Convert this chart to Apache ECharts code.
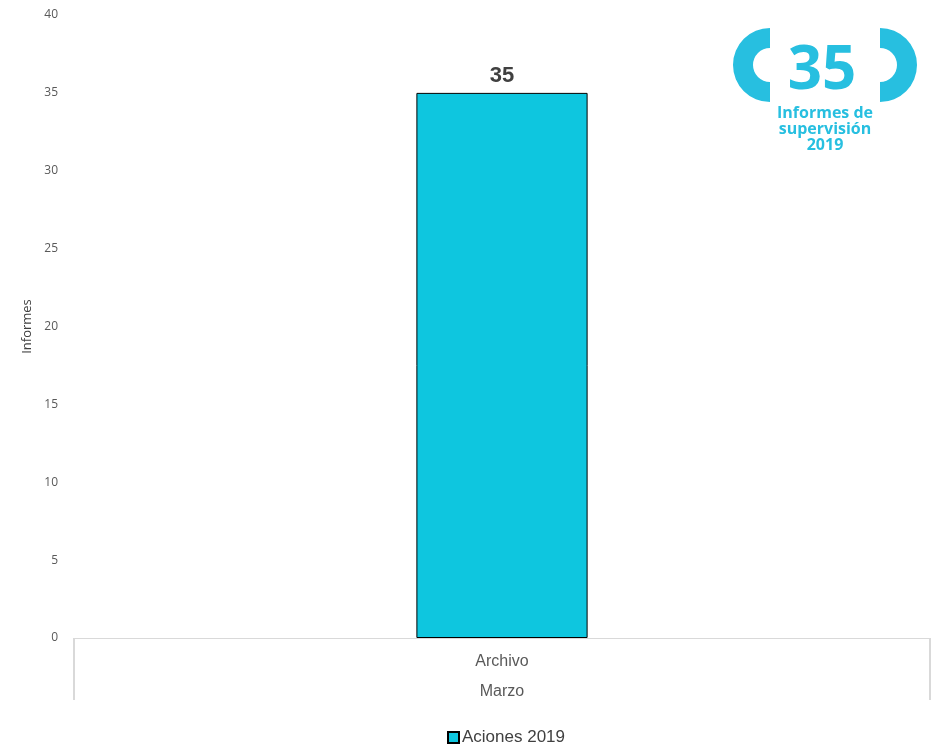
<!DOCTYPE html>
<html>
<head>
<meta charset="utf-8">
<script src="https://cdn.jsdelivr.net/npm/echarts@6/dist/echarts.min.js"></script>
<style>html,body{margin:0;padding:0;background:#fff}#c{width:939px;height:746px}</style>
</head>
<body>
<div id="c"></div>
<script>
const categories = ['Archivo'];
const groups = ['Marzo'];
const seriesName = 'Aciones 2019';
const values = [35];
const yTicks = { min: 0, max: 40, interval: 5 };
const logoNumber = '35';
const logoText = 'Informes de\nsupervisión\n2019';

const chart = echarts.init(document.getElementById('c'));
const logoColor = '#27BFE0';
chart.setOption({
  animation: false,
  backgroundColor: '#ffffff',
  grid: { left: 74, right: 9, top: 15, bottom: 108 },
  legend: {
    top: 724, left: 442,
    data: [{ name: seriesName, icon: 'rect' }],
    itemWidth: 11, itemHeight: 11, itemGap: 4,
    textStyle: { fontFamily: 'Liberation Sans', fontSize: 17, color: '#404040', padding: [0,0,0,-2] }
  },
  xAxis: [{
    type: 'category', data: categories, position: 'bottom',
    axisLine: { show: true, lineStyle: { color: '#d9d9d9', width: 1 } },
    axisTick: { show: true, length: 62, lineStyle: { color: '#d9d9d9', width: 2 } },
    axisLabel: { fontFamily: 'Liberation Sans', fontSize: 16, color: '#595959', margin: 16 }
  }, {
    type: 'category', data: groups, position: 'bottom', offset: 30,
    axisLine: { show: false }, axisTick: { show: false },
    axisLabel: { fontFamily: 'Liberation Sans', fontSize: 16, color: '#595959', margin: 16 }
  }],
  yAxis: {
    type: 'value', min: yTicks.min, max: yTicks.max, interval: yTicks.interval,
    name: 'Informes', nameLocation: 'middle', nameGap: 36, nameRotate: 90,
    nameTextStyle: { fontFamily: 'Open Sans', fontSize: 13, color: '#404040' },
    axisLine: { show: false }, axisTick: { show: false }, splitLine: { show: false },
    axisLabel: { fontFamily: 'Open Sans', fontSize: 12, color: '#595959', margin: 16 }
  },
  series: [{
    name: seriesName, type: 'bar', xAxisIndex: 0, data: values, barWidth: '20%',
    itemStyle: { color: '#0EC6DF', borderColor: '#000000', borderWidth: 1 },
    label: { show: true, position: 'top', distance: 6, fontFamily: 'Liberation Sans', fontWeight: 'bold', fontSize: 22, color: '#404040' }
  }],
  graphic: [
    { type: 'sector', shape: { cx: 770, cy: 65, r0: 17, r: 37, startAngle: Math.PI/2, endAngle: Math.PI*3/2, clockwise: true },
      style: { fill: logoColor } },
    { type: 'sector', shape: { cx: 880, cy: 65, r0: 17, r: 37, startAngle: -Math.PI/2, endAngle: Math.PI/2, clockwise: true },
      style: { fill: logoColor } },
    { type: 'text', x: 822, y: 72, style: { text: logoNumber, fill: logoColor, font: 'bold 60px "Open Sans"', align: 'center', verticalAlign: 'middle' } },
    { type: 'text', x: 825, y: 105, style: { text: logoText, fill: logoColor, font: 'bold 16px "Open Sans"', lineHeight: 16, align: 'center', verticalAlign: 'top' } }
  ]
});
</script>
</body>
</html>
